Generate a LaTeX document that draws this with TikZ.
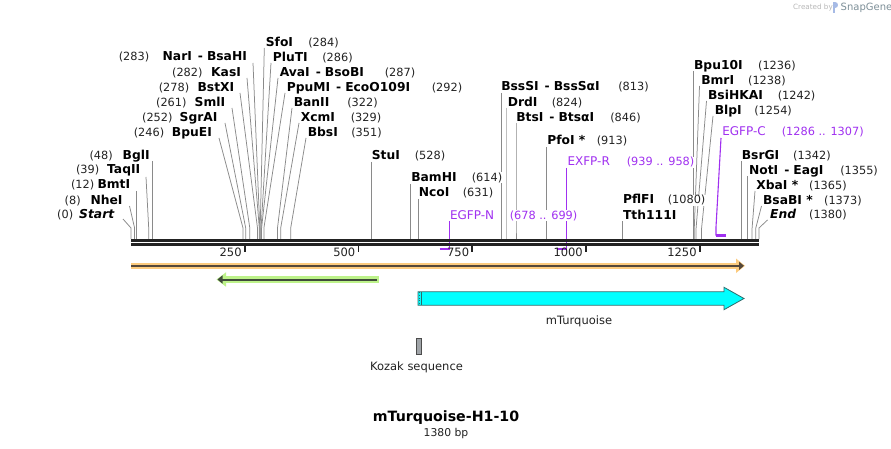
\documentclass[tikz,border=0pt]{standalone}
\usepackage{fontspec}
\setmainfont{DejaVu Sans}
\usetikzlibrary{arrows.meta}
\definecolor{cutgray}{HTML}{8A8A8A}
\definecolor{bb}{HTML}{222222}
\definecolor{prim}{HTML}{A030F0}
\definecolor{orlight}{HTML}{FCCB7E}
\definecolor{ordark}{HTML}{55483A}
\definecolor{grlight}{HTML}{BDF28A}
\definecolor{grdark}{HTML}{3F4A3A}
\definecolor{cyanf}{HTML}{00FFFF}
\definecolor{cyand}{HTML}{2E6B6B}
\definecolor{kozak}{HTML}{A0A4A8}
\newcommand\dsep{\hspace{6pt}-\hspace{4pt}}
\newcommand\EnzR[6]{%
  \node[nm, anchor=base west] (#1) at (#2,#4+4.4) {#5};
  \node[num, anchor=base west] (#1n) at (#3,#4+4.4) {#6};}
\newcommand\EnzL[6]{%
  \node[nm, anchor=base east] (#1) at (#2,#4+4.4) {#5};
  \node[num, anchor=base east] (#1n) at (#3,#4+4.4) {#6};}
\newcommand\CutLine[4]{%
  \coordinate (#1t) at (#2,#3); \coordinate (#1b) at (#4,239);
  \draw[cutline] (#1t) -- (#4,228) -- (#1b);}
\tikzset{
  nm/.style={font=\fontsize{12.3}{14}\selectfont\bfseries, inner sep=0.6pt, fill=white, text=black},
  nmi/.style={nm, font=\fontsize{12.3}{14}\selectfont\bfseries\itshape},
  num/.style={font=\fontsize{11.3}{13}\selectfont, inner sep=0.6pt, fill=white, text=bb},
  pnm/.style={font=\fontsize{12}{14}\selectfont, inner sep=0.6pt, fill=white, text=prim},
  pnum/.style={font=\fontsize{11.3}{13}\selectfont, inner sep=0.6pt, fill=white, text=prim},
  cutline/.style={draw=cutgray, line width=0.75pt},
  primline/.style={draw=prim, line width=1.1pt},
  primbar/.style={draw=prim, line width=2.2pt},
  plain/.style={font=\fontsize{11.5}{13}\selectfont, inner sep=0pt, text=bb},
}
\begin{document}
\begin{tikzpicture}[x=1pt, y=-1pt]
\useasboundingbox (0,0) rectangle (891,449);
\fill[white] (0,0) rectangle (891,449);

% ---------- cut lines (drawn first) ----------
\CutLine{start}{123}{219}{131}
\CutLine{nhe}{129.5}{206}{134.6}
\CutLine{bmt}{136.5}{191}{136.5}
\CutLine{taq}{146}{177}{148.7}
\CutLine{bgl}{152.8}{161}{152.8}
\CutLine{bpue}{219}{138}{243}
\CutLine{sgra}{225}{123}{245.7}
\CutLine{sml}{232}{108}{249.8}
\CutLine{bstx}{240}{93}{257.5}
\CutLine{kas}{247}{78}{259.3}
\CutLine{nar}{253}{63}{259.8}
\CutLine{sfo}{264.3}{48}{260.2}
\CutLine{plu}{271}{63}{261.1}
\CutLine{ava}{278}{78}{261.6}
\CutLine{ppu}{285}{93}{263.9}
\CutLine{ban}{292}{108}{277.5}
\CutLine{xcm}{299}{123}{280.7}
\CutLine{bbs}{306}{138}{290.7}
\CutLine{stu}{371.2}{162}{371.2}
\CutLine{bam}{410.4}{184}{410.4}
\CutLine{nco}{418.1}{199}{418.1}
\CutLine{bsss}{500.9}{93}{500.9}
\coordinate (drdt) at (505.9,108); \coordinate (drdb) at (505.9,239);
\draw[cutline, draw=cutgray!55] (drdt) -- (drdb);
\CutLine{bts}{516}{123}{516}
\CutLine{pfo}{546.4}{147}{546.4}
\CutLine{pfl}{622.4}{221}{622.4}
\CutLine{bpu}{693.4}{71}{693.4}
\CutLine{bmr}{699.5}{86}{694.3}
\CutLine{bsih}{706.5}{101}{696.1}
\CutLine{blp}{713}{116}{701.6}
\CutLine{bsrg}{741.6}{161}{741.6}
\CutLine{not}{747.6}{176}{747.6}
\CutLine{xba}{755}{191}{752.1}
\CutLine{bsab}{761.5}{206}{755.8}
\CutLine{end}{767.5}{220}{759}

% ---------- primers ----------
\coordinate (pnt) at (449.3,221); \coordinate (pnb) at (449.3,249);
\draw[primline] (pnt) -- (pnb);
\draw[primbar] (439.5,249) -- (449.8,249);
\coordinate (prt) at (566.7,168); \coordinate (prb) at (566.7,249);
\draw[primline] (prt) -- (prb);
\draw[primbar] (556.7,249) -- (567.2,249);
\coordinate (pct) at (721,138); \coordinate (pcb) at (716,235.5);
\draw[primline] (pct) -- (716,227) -- (pcb);
\draw[primbar] (715.5,235.5) -- (726,235.5);

% ---------- backbone ----------
\coordinate (bbL) at (131,240.3); \coordinate (bbR) at (759.3,240.3);
\draw[bb, line width=3.2pt] (bbL) -- (bbR);
\draw[bb, line width=2.6pt] (131,244.7) -- (759.3,244.7);
\foreach \x/\t in {244.8/250, 358.5/500, 472.3/750, 586/1000, 699.8/1250}{
  \draw[bb, line width=1.8pt] (\x,245) -- (\x,251.5);
  \node[plain, anchor=base east] at (\x-3,256.5) {\t};
}

% ---------- labels, left ----------
\node[nmi, anchor=base east] (startl) at (115,218.6) {Start};
\node[num, anchor=base east] (startn) at (74,218.6) {(0)};
\EnzL{nhel}{123.3}{81.5}{200}{NheI}{(8)}
\EnzL{bmtl}{131}{95}{184.5}{BmtI}{(12)}
\EnzL{taql}{141}{100}{169.5}{TaqII}{(39)}
\EnzL{bgll}{150.5}{113.5}{155}{BglI}{(48)}
\EnzL{bpuel}{212.7}{165}{132}{BpuEI}{(246)}
\EnzL{sgral}{218.3}{173.3}{117}{SgrAI}{(252)}
\EnzL{smll}{226}{187.3}{102}{SmlI}{(261)}
\EnzL{bstxl}{235}{190}{87}{BstXI}{(278)}
\EnzL{kasl}{241.7}{203.3}{72}{KasI}{(282)}
\EnzL{narl}{247.7}{150}{56.5}{NarI\dsep BsaHI}{(283)}

% ---------- labels, right ----------
\EnzR{sfol}{265}{307.5}{42}{SfoI}{(284)}
\EnzR{plul}{272}{321.5}{57}{PluTI}{(286)}
\EnzR{aval}{279}{384}{72}{AvaI\dsep BsoBI}{(287)}
\EnzR{ppul}{286}{431}{87}{PpuMI\dsep EcoO109I}{(292)}
\EnzR{banl}{293}{346.5}{102}{BanII}{(322)}
\EnzR{xcml}{300}{350}{117}{XcmI}{(329)}
\EnzR{bbsl}{307}{350.5}{132}{BbsI}{(351)}
\EnzR{stul}{371}{414}{155}{StuI}{(528)}
\EnzR{baml}{410.5}{471}{177}{BamHI}{(614)}
\EnzR{ncol}{418}{462}{192}{NcoI}{(631)}
\EnzR{bsssl}{500.5}{617.5}{86}{BssSI\dsep BssSαI}{(813)}
\EnzR{drdl}{507}{551}{102}{DrdI}{(824)}
\EnzR{btsl}{515.5}{609.5}{117}{BtsI\dsep BtsαI}{(846)}
\EnzR{pfol}{546.5}{596}{140}{PfoI *}{(913)}
\EnzR{pfll}{622.3}{667}{199.5}{PflFI}{(1080)}
\node[nm, anchor=base west] (tthl) at (622.3,219) {Tth111I};
\EnzR{bpul}{693.3}{757.3}{65}{Bpu10I}{(1236)}
\EnzR{bmrl}{700.5}{747.3}{80}{BmrI}{(1238)}
\EnzR{bsihl}{707.3}{777}{95}{BsiHKAI}{(1242)}
\EnzR{blpl}{714}{753.5}{110}{BlpI}{(1254)}
\EnzR{bsrgl}{741}{792.3}{155}{BsrGI}{(1342)}
\EnzR{notl}{748.3}{839.5}{170}{NotI\dsep EagI}{(1355)}
\EnzR{xbal}{755.5}{808.3}{185}{XbaI *}{(1365)}
\EnzR{bsabl}{762.3}{823.3}{200}{BsaBI *}{(1373)}
\node[nmi, anchor=base west] (endl) at (769.3,218.9) {End};
\node[num, anchor=base west] (endn) at (808.3,218.9) {(1380)};

% primer labels
\node[pnm, anchor=base west] (pnl) at (449.3,219.4) {EGFP-N};
\node[pnum, anchor=base west] (pnn) at (509,219.4) {(678 .. 699)};
\node[pnm, anchor=base west] (prl) at (566.7,165.9) {EXFP-R};
\node[pnum, anchor=base west] (prn) at (626,165.9) {(939 .. 958)};
\node[pnm, anchor=base west] (pcl) at (721.5,135.9) {EGFP-C};
\node[pnum, anchor=base west] (pcn) at (781,135.9) {(1286 .. 1307)};

% ---------- features ----------
% orange (forward, full length)
\draw[orlight, line width=6.3pt] (131,265.8) -- (737,265.8);
\fill[orlight] (736,258.5) -- (745,265.8) -- (736,273) -- cycle;
\coordinate (orL) at (131,265.8); \coordinate (orR) at (744,265.8);
\draw[ordark, line width=2pt, -{Triangle[length=5pt,width=8pt]}] (orL) -- (orR);
% green (reverse)
\draw[grlight, line width=6.3pt] (225,279.5) -- (379,279.5);
\fill[grlight] (226,272.3) -- (216.5,279.5) -- (226,286.7) -- cycle;
\coordinate (grR) at (377,279.5); \coordinate (grL) at (217.5,279.5);
\draw[grdark, line width=2pt, -{Triangle[length=5pt,width=8pt]}] (grR) -- (grL);
% mTurquoise
\draw[cyand, fill=cyanf, line width=0.8pt]
  (418,291.8) -- (724,291.8) -- (724,287.3) -- (744,298.5) -- (724,309.7) -- (724,305.2) -- (418,305.2) -- cycle;
\draw[cyand, line width=0.6pt, dotted] (419.7,292.3) -- (419.7,304.7);
\draw[cyand, line width=0.5pt] (421.6,291.8) -- (421.6,305.2);
\node[plain, anchor=center] (mturq) at (579,321) {mTurquoise};
% Kozak
\draw[black!70, fill=kozak, line width=0.6pt] (416,338) rectangle (421,354);
\node[plain, anchor=center] (kozakl) at (416.5,367.5) {Kozak sequence};

% ---------- title ----------
\node[font=\fontsize{14.2}{16}\selectfont\bfseries, inner sep=0pt, text=black] (title) at (446,418) {mTurquoise-H1-10};
\node[font=\fontsize{10.8}{12}\selectfont, inner sep=0pt, text=bb] (bp) at (446,433.5) {1380 bp};

% ---------- credit ----------
\node[font=\fontsize{7.2}{8}\selectfont, inner sep=0pt, text=black!28, anchor=west] (cr) at (793,8) {Created by};
\fill[cyan!45!blue!35] (832.5,2.5) rectangle (834.6,13.5);
\fill[cyan!45!blue!35] (834.6,2.5) .. controls (839,2.5) and (839,8.5) .. (834.6,8.5) -- cycle;
\node[font=\fontsize{10}{11}\selectfont, inner sep=0pt, text=black!35!cyan!30!gray, anchor=west] (sg) at (840.5,8) {SnapGene};
\end{tikzpicture}
\end{document}
